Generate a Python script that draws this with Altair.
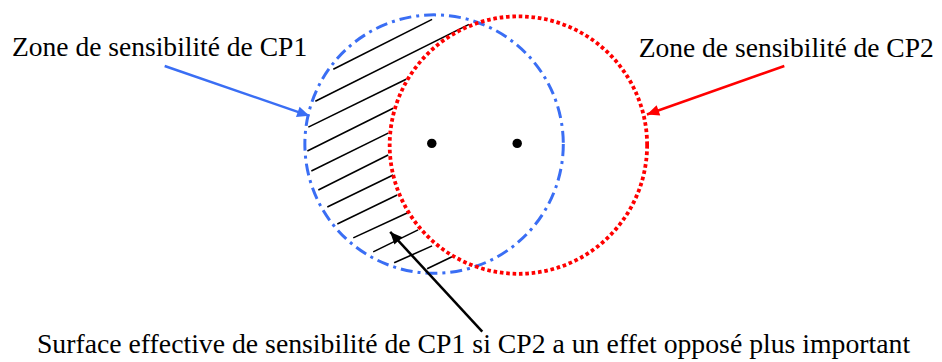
import math
import altair as alt
import pandas as pd

# ---- data (image pixel coordinates, y downward) ----
circle_names = ["CP1", "CP2"]
circle_cx = [435, 519.5]
circle_cy = [139, 140]
circle_r = [129.5, 129]

dot_x = [432.7, 518.3]
dot_y = [138.3, 138.3]

hatch_x1 = [334, 316, 309, 308, 312, 319, 328, 338, 354, 374, 395, 428]
hatch_y1 = [64, 96, 122, 146, 166, 185, 202, 219, 233, 247, 258, 264]
hatch_x2 = [433, 470, 407, 394, 389, 389, 394, 398, 408, 419, 433, 453]
hatch_y2 = [14, 19, 74, 103, 128, 150, 170, 190, 208, 225, 241, 252]

arrow_names = ["CP1", "CP2", "surface"]
arrow_x1 = [165, 786, 483.3]
arrow_y1 = [60.7, 60.7, 327]
arrow_x2 = [310, 648.3, 391]
arrow_y2 = [110.7, 109.3, 227]

labels = [
    "Zone de sensibilité de CP1",
    "Zone de sensibilité de CP2",
    "Surface effective de sensibilité de CP1 si CP2 a un effet opposé plus important",
]
label_x = [12, 640, 37]
label_y = [51, 51.5, 348]
label_size = [27.6, 27.6, 27.8]

# ---- frames ----
W, H = 926, 346
xs = alt.Scale(domain=[8, 934], nice=False, zero=False, padding=0)
ys = alt.Scale(domain=[8, 354], reverse=True, nice=False, zero=False, padding=0)

circles = pd.DataFrame({"name": circle_names, "x": circle_cx, "y": circle_cy,
                        "size": [(2 * r) ** 2 for r in circle_r]})
dots = pd.DataFrame({"x": dot_x, "y": dot_y})
hatch = pd.DataFrame({"x": hatch_x1, "y": hatch_y1, "x2": hatch_x2, "y2": hatch_y2})
arrows = pd.DataFrame({"name": arrow_names, "x": arrow_x1, "y": arrow_y1,
                       "x2": arrow_x2, "y2": arrow_y2})
arrows["angle"] = [
    (math.degrees(math.atan2(y2 - y1, x2 - x1)) + 360) % 360
    for x1, y1, x2, y2 in zip(arrow_x1, arrow_y1, arrow_x2, arrow_y2)
]
texts = pd.DataFrame({"t": labels, "x": label_x, "y": label_y, "fs": label_size})

X = lambda f: alt.X(f, type="quantitative", scale=xs, axis=None)
Y = lambda f: alt.Y(f, type="quantitative", scale=ys, axis=None)

blue = "#3a6ef4"
red = "#ff0000"

hatch_layer = alt.Chart(hatch).mark_rule(color="black", strokeWidth=1.6).encode(
    x=X("x"), y=Y("y"), x2="x2", y2="y2")

blue_circle = alt.Chart(circles[circles.name == "CP1"]).mark_point(
    shape="circle", filled=False, stroke=blue, strokeWidth=3,
    strokeDash=[12, 5, 3, 5], opacity=1).encode(
    x=X("x"), y=Y("y"), size=alt.Size("size:Q", scale=None, legend=None))

red_circle = alt.Chart(circles[circles.name == "CP2"]).mark_point(
    shape="circle", filled=False, stroke=red, strokeWidth=3.8,
    strokeDash=[3.6, 2.8], opacity=1).encode(
    x=X("x"), y=Y("y"), size=alt.Size("size:Q", scale=None, legend=None))

dot_layer = alt.Chart(dots).mark_point(
    shape="circle", filled=True, color="black", size=90, opacity=1).encode(
    x=X("x"), y=Y("y"))

arrow_colors = alt.Scale(domain=arrow_names, range=[blue, red, "black"])

arrow_lines = alt.Chart(arrows).mark_rule(strokeWidth=2.5).encode(
    x=X("x"), y=Y("y"), x2="x2", y2="y2",
    color=alt.Color("name:N", scale=arrow_colors, legend=None))

head_shape = "M0,0L-1,-0.45L-1,0.45Z"
arrow_heads = alt.Chart(arrows).mark_point(
    shape=head_shape, filled=True, size=600, opacity=1, strokeWidth=0).encode(
    x=X("x2"), y=Y("y2"),
    angle=alt.Angle("angle:Q", scale=None),
    color=alt.Color("name:N", scale=arrow_colors, legend=None))

text_layer = alt.Chart(texts).mark_text(
    align="left", baseline="alphabetic", font="Liberation Serif",
    color="black").encode(
    x=X("x"), y=Y("y"), text="t:N",
    size=alt.Size("fs:Q", scale=None, legend=None))

chart = alt.layer(
    hatch_layer, blue_circle, red_circle, dot_layer,
    arrow_lines, arrow_heads, text_layer
).properties(width=W, height=H, padding=0).configure_view(stroke=None)

chart.save("out.html", embed_options={"renderer": "svg", "actions": False})
